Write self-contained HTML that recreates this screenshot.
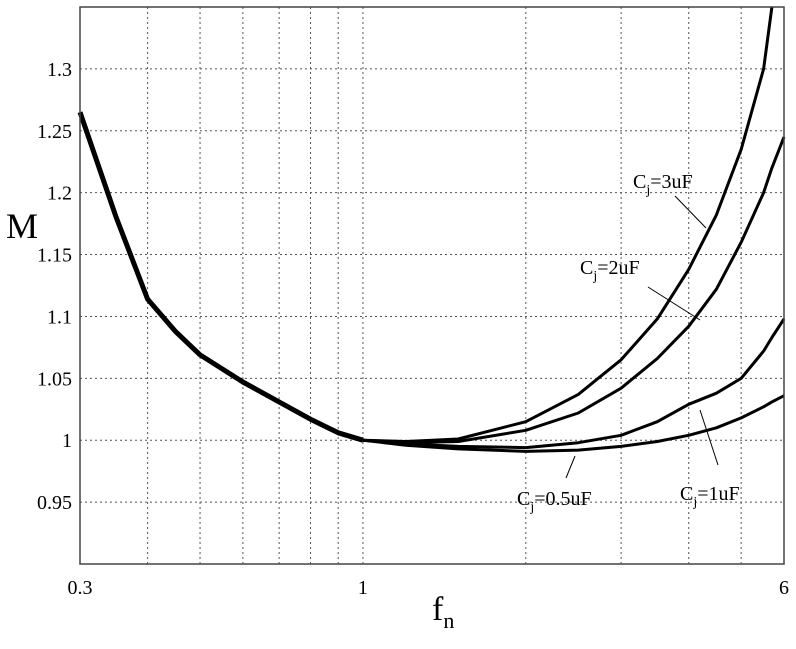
<!DOCTYPE html>
<html><head><meta charset="utf-8"><style>
body{margin:0;background:#fff;}
svg text{font-family:"Liberation Serif",serif;fill:#000;}
</style></head><body>
<svg id="chart" width="796" height="644" viewBox="0 0 796 644" xmlns="http://www.w3.org/2000/svg">
<g id="grid"></g>
<g id="series"></g>
<rect x="80" y="7" width="704" height="557" fill="none" stroke="#444" stroke-width="1.5"/>
<g id="ticks"></g>
<text x="6" y="238" font-size="36">M</text>
<text x="432" y="620" font-size="34">f<tspan font-size="22" dy="8">n</tspan></text>
<g font-size="20">
<text x="633" y="188">C<tspan font-size="14" dy="6">j</tspan><tspan dy="-6">=3uF</tspan></text>
<line x1="675" y1="196" x2="706" y2="228" stroke="#000"/>
<text x="580" y="274">C<tspan font-size="14" dy="6">j</tspan><tspan dy="-6">=2uF</tspan></text>
<line x1="648" y1="287" x2="700" y2="320" stroke="#000"/>
<text x="680" y="500">C<tspan font-size="14" dy="6">j</tspan><tspan dy="-6">=1uF</tspan></text>
<line x1="718" y1="465" x2="700" y2="410" stroke="#000"/>
<text x="517" y="505">C<tspan font-size="14" dy="6">j</tspan><tspan dy="-6">=0.5uF</tspan></text>
<line x1="566" y1="478" x2="575" y2="456" stroke="#000"/>
</g>
</svg>
<script>
const commonF=[0.3,0.35,0.4,0.45,0.5,0.6,0.7,0.8,0.9,1];
const commonM=[1.265,1.18,1.114,1.088,1.069,1.047,1.031,1.017,1.006,1.0];
const branchF=[1,1.2,1.5,2,2.5,3,3.5,4,4.5,5,5.5,5.7,6];
const m3uF=[1,0.999,1.001,1.015,1.037,1.065,1.098,1.138,1.182,1.235,1.30,1.35,null];
const m2uF=[1,0.998,0.999,1.008,1.022,1.042,1.066,1.092,1.122,1.16,1.20,1.22,1.245];
const m1uF=[1,0.997,0.995,0.994,0.998,1.004,1.015,1.029,1.038,1.05,1.072,1.083,1.098];
const m05uF=[1,0.996,0.993,0.991,0.992,0.995,0.999,1.004,1.010,1.018,1.027,1.031,1.036];
const yTicks=[0.95,1,1.05,1.1,1.15,1.2,1.25,1.3];
const yTickLabels=["0.95","1","1.05","1.1","1.15","1.2","1.25","1.3"];
const xGrid=[0.4,0.5,0.6,0.7,0.8,0.9,1,2,3,4,5];
const xTicks=[0.3,1,6];
const xTickLabels=["0.3","1","6"];
const X0=80,X1=784,Y0=564,Y1=7,FMIN=0.3,FMAX=6,MMIN=0.9,MMAX=1.35;
const sx=f=>X0+(Math.log10(f)-Math.log10(FMIN))/(Math.log10(FMAX)-Math.log10(FMIN))*(X1-X0);
const sy=m=>Y0-(m-MMIN)/(MMAX-MMIN)*(Y0-Y1);
const NS="http://www.w3.org/2000/svg";
const grid=document.getElementById('grid'),ser=document.getElementById('series'),tk=document.getElementById('ticks');
function mk(t,a,p){const e=document.createElementNS(NS,t);for(const k in a)e.setAttribute(k,a[k]);p.appendChild(e);return e;}
xGrid.forEach(f=>{const l=mk('line',{x1:sx(f),x2:sx(f),y1:Y1,y2:Y0,stroke:'#555','stroke-dasharray':'2,3','stroke-width':1},grid);

});
yTicks.forEach((m,i)=>{const l=mk('line',{x1:X0,x2:X1,y1:sy(m),y2:sy(m),stroke:'#555','stroke-dasharray':'2,3','stroke-width':1},grid);


const t=mk('text',{x:X0-8,y:sy(m)+7,'text-anchor':'end','font-size':20},tk);t.textContent=yTickLabels[i];

});
xTicks.forEach((f,i)=>{const t=mk('text',{x:sx(f),y:594,'text-anchor':'middle','font-size':20},tk);t.textContent=xTickLabels[i];

});
function line(fs,ms,w,name){let d='';fs.forEach((f,i)=>{if(ms[i]==null)return;d+=(d?'L':'M')+sx(f).toFixed(1)+','+sy(ms[i]).toFixed(1);});
const p=mk('path',{d:d,fill:'none',stroke:'#000','stroke-width':w,'stroke-linejoin':'round'},ser);

}
line(commonF,commonM,5,'common-curve');
line(branchF,m3uF,3,'curve-3uf');
line(branchF,m2uF,3,'curve-2uf');
line(branchF,m1uF,3,'curve-1uf');
line(branchF,m05uF,3,'curve-05uf');
</script>
</body></html>
